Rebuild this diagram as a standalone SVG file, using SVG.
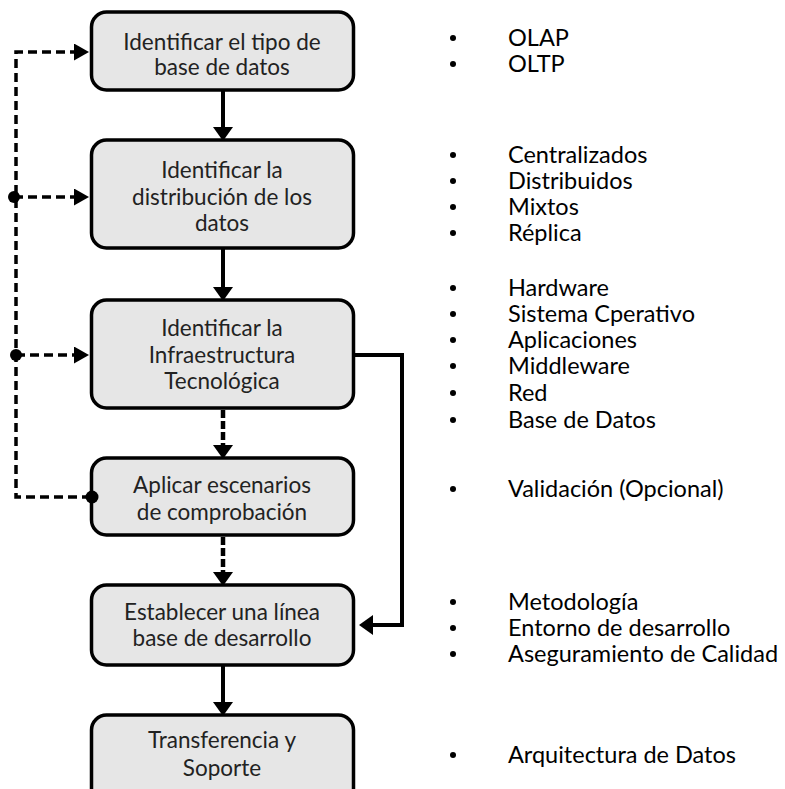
<svg xmlns="http://www.w3.org/2000/svg" width="785" height="789" viewBox="0 0 785 789">
<style>
.box{fill:#e6e6e6;stroke:#000;stroke-width:3.5}
.bt{font-family:Lato,"Liberation Sans",sans-serif;font-size:22.5px;fill:#222;text-anchor:middle}
.rt{font-family:Lato,"Liberation Sans",sans-serif;font-size:23.5px;fill:#000}
.sol{fill:none;stroke:#000;stroke-width:4}
.dsh{fill:none;stroke:#000;stroke-width:3.5;stroke-dasharray:9 5}
.dshv{fill:none;stroke:#000;stroke-width:4.5;stroke-dasharray:8 3}
</style>
<defs>
<marker id="arr" viewBox="0 0 14 20" refX="0" refY="10" markerWidth="14" markerHeight="20" markerUnits="userSpaceOnUse" orient="auto"><path d="M0,0 L14,10 L0,20 z" fill="#000"/></marker>
<marker id="arrs" viewBox="0 0 15 17" refX="0" refY="8.5" markerWidth="15" markerHeight="17" markerUnits="userSpaceOnUse" orient="auto"><path d="M0,0 L15,8.5 L0,17 z" fill="#000"/></marker>
</defs>
<g id="n1"><rect class="box" x="91.5" y="12" width="262" height="78" rx="15"/><text class="bt" x="222" y="50">Identificar el tipo de</text><text class="bt" x="222" y="75">base de datos</text></g>
<g id="n2"><rect class="box" x="91.5" y="140" width="262" height="108" rx="15"/><text class="bt" x="222" y="178">Identificar la</text><text class="bt" x="222" y="205">distribución de los</text><text class="bt" x="222" y="231">datos</text></g>
<g id="n3"><rect class="box" x="91.5" y="300" width="262" height="108" rx="15"/><text class="bt" x="222" y="336">Identificar la</text><text class="bt" x="222" y="363">Infraestructura</text><text class="bt" x="222" y="389">Tecnológica</text></g>
<g id="n4"><rect class="box" x="91.5" y="458" width="262" height="77" rx="15"/><text class="bt" x="222" y="493">Aplicar escenarios</text><text class="bt" x="222" y="520">de comprobación</text></g>
<g id="n5"><rect class="box" x="91.5" y="585" width="262" height="80" rx="15"/><text class="bt" x="222" y="620">Establecer una línea</text><text class="bt" x="222" y="646">base de desarrollo</text></g>
<g id="n6"><rect class="box" x="91.5" y="715" width="262" height="90" rx="15"/><text class="bt" x="222" y="748">Transferencia y</text><text class="bt" x="222" y="776">Soporte</text></g>
<g id="connectors">
<line class="sol" x1="223" y1="90" x2="223" y2="127" marker-end="url(#arr)"/>
<line class="sol" x1="223" y1="248" x2="223" y2="287" marker-end="url(#arr)"/>
<line class="dshv" x1="223" y1="410" x2="223" y2="445" marker-end="url(#arr)"/>
<line class="dshv" x1="223" y1="537" x2="223" y2="572" marker-end="url(#arr)"/>
<line class="sol" x1="223" y1="665" x2="223" y2="702" marker-end="url(#arr)"/>
<polyline class="sol" points="354,355 402,355 402,625 373,625" marker-end="url(#arr)"/>
<polyline class="dsh" points="91,497 16,497 16,52 74,52" marker-end="url(#arrs)"/>
<line class="dsh" x1="14" y1="197" x2="74" y2="197" marker-end="url(#arrs)"/>
<line class="dsh" x1="16" y1="355" x2="74" y2="355" marker-end="url(#arrs)"/>
<circle cx="14" cy="197" r="6" fill="#000"/>
<circle cx="16" cy="355" r="6" fill="#000"/>
<circle cx="92" cy="497" r="6.5" fill="#000"/>
</g>
<g id="lists" fill="#000">
<circle cx="453" cy="38" r="3"/><text class="rt" x="508" y="46">OLAP</text>
<circle cx="453" cy="64" r="3"/><text class="rt" x="508" y="72">OLTP</text>
<circle cx="453" cy="155" r="3"/><text class="rt" x="508" y="163">Centralizados</text>
<circle cx="453" cy="181" r="3"/><text class="rt" x="508" y="189">Distribuidos</text>
<circle cx="453" cy="207" r="3"/><text class="rt" x="508" y="215">Mixtos</text>
<circle cx="453" cy="233" r="3"/><text class="rt" x="508" y="241">Réplica</text>
<circle cx="453" cy="288" r="3"/><text class="rt" x="508" y="296">Hardware</text>
<circle cx="453" cy="314" r="3"/><text class="rt" x="508" y="322">Sistema Cperativo</text>
<circle cx="453" cy="340" r="3"/><text class="rt" x="508" y="348">Aplicaciones</text>
<circle cx="453" cy="366" r="3"/><text class="rt" x="508" y="374">Middleware</text>
<circle cx="453" cy="393" r="3"/><text class="rt" x="508" y="401">Red</text>
<circle cx="453" cy="420" r="3"/><text class="rt" x="508" y="428">Base de Datos</text>
<circle cx="453" cy="489" r="3"/><text class="rt" x="508" y="497">Validación (Opcional)</text>
<circle cx="453" cy="602" r="3"/><text class="rt" x="508" y="610">Metodología</text>
<circle cx="453" cy="628" r="3"/><text class="rt" x="508" y="636">Entorno de desarrollo</text>
<circle cx="453" cy="654" r="3"/><text class="rt" x="508" y="662">Aseguramiento de Calidad</text>
<circle cx="453" cy="755" r="3"/><text class="rt" x="508" y="763">Arquitectura de Datos</text>
</g>
</svg>
